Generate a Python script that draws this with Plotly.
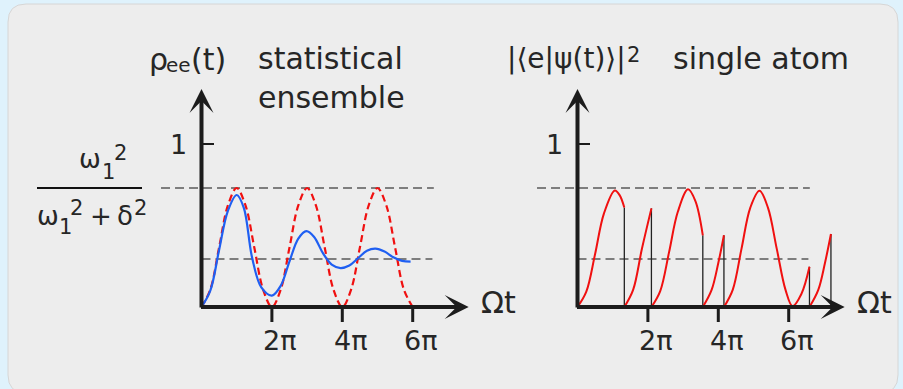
import plotly.graph_objects as go

W, H = 903, 389

# ---------------- data (x in units of pi, i.e. Omega*t / pi) ----------------
# statistical ensemble: undamped detuned Rabi oscillation (red dashed)
coherent_x = [0, 0.25, 0.5, 0.75, 1.0, 1.25, 1.5, 1.75, 2.0, 2.25, 2.5, 2.75, 3.0,
              3.25, 3.5, 3.75, 4.0, 4.25, 4.5, 4.75, 5.0, 5.25, 5.5, 5.75, 6.0]
coherent_y = [0, 0.107, 0.365, 0.623, 0.73, 0.623, 0.365, 0.107, 0.0, 0.107, 0.365, 0.623, 0.73,
              0.623, 0.365, 0.107, 0.0, 0.107, 0.365, 0.623, 0.73, 0.623, 0.365, 0.107, 0.0]
# damped ensemble average (blue)
ensemble_x = [0, 0.25, 0.5, 0.75, 1.0, 1.2, 1.44, 1.7, 2.0, 2.25, 2.5, 2.75, 2.98,
              3.2, 3.45, 3.7, 3.95, 4.2, 4.45, 4.7, 4.94, 5.2, 5.45, 5.7, 5.94]
ensemble_y = [0, 0.1, 0.35, 0.59, 0.687, 0.61, 0.30, 0.12, 0.07, 0.13, 0.28, 0.42, 0.466,
              0.43, 0.33, 0.26, 0.239, 0.255, 0.30, 0.345, 0.358, 0.34, 0.305, 0.283, 0.278]

upper_level = 0.73      # omega1^2 / (omega1^2 + delta^2)
lower_level = 0.294     # steady state
upper_level_span = [-1.15, 6.6]
lower_level_span = [0, 6.56]

# single atom trajectory (red), segments restart at 0 after each quantum jump
atom_x = [0, 0.25, 0.5, 0.75, 1.06, 1.2, 1.33, None,
          1.33, 1.58, 1.83, 2.10, None,
          2.10, 2.35, 2.6, 2.85, 3.14, 3.35, 3.56, None,
          3.56, 3.81, 4.0, 4.16, None,
          4.16, 4.41, 4.66, 4.91, 5.17, 5.41, 5.66, 5.91, 6.11, 6.36, 6.59, None,
          6.59, 6.84, 7.03, 7.2]
atom_y = [0, 0.094, 0.325, 0.573, 0.715, 0.685, 0.61, None,
          0, 0.105, 0.357, 0.605, None,
          0, 0.098, 0.335, 0.584, 0.722, 0.65, 0.44, None,
          0, 0.105, 0.27, 0.44, None,
          0, 0.105, 0.358, 0.61, 0.713, 0.61, 0.358, 0.105, 0.005, 0.08, 0.247, None,
          0, 0.105, 0.27, 0.448]
jump_x = [1.33, 2.10, 3.56, 4.16, 6.59, 7.2]
jump_top = [0.61, 0.605, 0.44, 0.44, 0.247, 0.448]

tick_vals = [2, 4, 6]
tick_text = ["2π", "4π", "6π"]
y_tick_vals = [1]
y_tick_text = ["1"]
x_axis_end = 7.59
y_axis_end = 1.337

# ---------------- layout geometry (pixels) ----------------
X0 = {"x": 201.5, "x2": 577.5}
SX = 35.2
Y0 = 307.0
SY = 163.0

FONT = "DejaVu Sans"
TXT = "#262626"
AX = "#1c1c1c"


def px(v):
    return v / W


def py(v):
    return 1 - v / H


def dx(xr, v):
    """data x -> paper fraction"""
    return px(X0[xr] + v * SX)


def dy(v):
    """data y -> paper fraction"""
    return py(Y0 - v * SY)


def piece(text, left, cy, size, anchor="left"):
    return dict(x=px(left), y=py(cy), xref="paper", yref="paper", text=text, showarrow=False,
                font=dict(family=FONT, size=size, color=TXT), xanchor=anchor, yanchor="middle")


fig = go.Figure()

annotations = []
for xr in ["x", "x2"]:
    # dashed reference levels
    fig.add_trace(go.Scatter(x=upper_level_span, y=[upper_level, upper_level], xaxis=xr, yaxis="y",
                             mode="lines", line=dict(color="#5a5a5a", width=1.5, dash="9px,5px"),
                             hoverinfo="skip", showlegend=False))
    fig.add_trace(go.Scatter(x=lower_level_span, y=[lower_level, lower_level], xaxis=xr, yaxis="y",
                             mode="lines", line=dict(color="#5a5a5a", width=1.5, dash="9px,5px"),
                             hoverinfo="skip", showlegend=False))
    # x ticks
    tx, ty = [], []
    for t in tick_vals:
        tx += [t, t, None]
        ty += [0, -15 / SY, None]
    fig.add_trace(go.Scatter(x=tx, y=ty, xaxis=xr, yaxis="y", mode="lines",
                             line=dict(color=AX, width=3), hoverinfo="skip", showlegend=False))
    # y ticks
    yx, yy = [], []
    for t in y_tick_vals:
        yx += [0, 12.5 / SX, None]
        yy += [t, t, None]
    fig.add_trace(go.Scatter(x=yx, y=yy, xaxis=xr, yaxis="y", mode="lines",
                             line=dict(color=AX, width=2), hoverinfo="skip", showlegend=False))
    for t, lab in zip(tick_vals, tick_text):
        annotations.append(dict(x=dx(xr, t) + px(8), y=dy(0) - 33 / H, xref="paper", yref="paper", text=lab,
                                showarrow=False, font=dict(family=FONT, size=27, color=TXT),
                                xanchor="center", yanchor="middle"))
    for t, lab in zip(y_tick_vals, y_tick_text):
        annotations.append(dict(x=dx(xr, 0) - px(23), y=dy(t), xref="paper", yref="paper", text=lab,
                                showarrow=False, font=dict(family=FONT, size=27, color=TXT),
                                xanchor="center", yanchor="middle"))
    # axes with arrow heads
    annotations.append(dict(x=0, y=y_axis_end, ax=0, ay=-2 / SY, xref=xr, yref="y", axref=xr, ayref="y",
                            text="", showarrow=True, arrowhead=3, arrowsize=1, arrowwidth=4,
                            arrowcolor=AX))
    annotations.append(dict(x=x_axis_end, y=0, ax=-2 / SX, ay=0, xref=xr, yref="y", axref=xr, ayref="y",
                            text="", showarrow=True, arrowhead=3, arrowsize=1, arrowwidth=4,
                            arrowcolor=AX))
    annotations.append(dict(x=dx(xr, x_axis_end) + px(10), y=dy(0) + 5 / H, xref="paper", yref="paper",
                            text="Ωt", showarrow=False,
                            font=dict(family=FONT, size=30, color=TXT), xanchor="left", yanchor="middle"))

# left panel curves
fig.add_trace(go.Scatter(x=coherent_x, y=coherent_y, xaxis="x", yaxis="y", mode="lines",
                         line=dict(color="#f01010", width=2.2, dash="7px,4px", shape="spline", smoothing=1.0),
                         hoverinfo="skip", showlegend=False))
fig.add_trace(go.Scatter(x=ensemble_x, y=ensemble_y, xaxis="x", yaxis="y", mode="lines",
                         line=dict(color="#1f5ff2", width=2.2, shape="spline", smoothing=1.0),
                         hoverinfo="skip", showlegend=False))

# right panel: jumps and trajectory
jx, jy = [], []
for xj, yj in zip(jump_x, jump_top):
    jx += [xj, xj, None]
    jy += [yj, 0, None]
fig.add_trace(go.Scatter(x=jx, y=jy, xaxis="x2", yaxis="y", mode="lines",
                         line=dict(color="#222222", width=1.3), hoverinfo="skip", showlegend=False))
fig.add_trace(go.Scatter(x=atom_x, y=atom_y, xaxis="x2", yaxis="y", mode="lines",
                         line=dict(color="#f01010", width=2, shape="spline", smoothing=1.0),
                         hoverinfo="skip", showlegend=False))

# titles and labels (sub/superscripts set as separate smaller pieces)
annotations += [
    piece("ρ", 147, 59, 30),
    piece("ee", 164, 65, 20),
    piece("(t)", 189, 59, 30),
    piece("statistical", 256, 58, 30),
    piece("ensemble", 256, 97, 30),
    piece("|⟨e|ψ(t)⟩|", 505, 58.5, 28),
    piece("2", 625, 55, 21),
    piece("single atom", 671, 58, 30),
    # fraction numerator
    piece("ω", 77, 159, 26),
    piece("1", 100, 172, 21),
    piece("2", 112, 152.5, 21),
    # fraction denominator
    piece("ω", 35, 216, 26),
    piece("1", 57, 227, 21),
    piece("2", 68, 207.5, 21),
    piece("+", 88, 216, 26),
    piece("δ", 115, 216, 26),
    piece("2", 132, 207.5, 21),
]

# rounded panel background
L, T, R, B, r = 8, 4, 898, 393, 18
path = (f"M {px(L+r)},{py(T)} L {px(R-r)},{py(T)} Q {px(R)},{py(T)} {px(R)},{py(T+r)} "
        f"L {px(R)},{py(B-r)} Q {px(R)},{py(B)} {px(R-r)},{py(B)} "
        f"L {px(L+r)},{py(B)} Q {px(L)},{py(B)} {px(L)},{py(B-r)} "
        f"L {px(L)},{py(T+r)} Q {px(L)},{py(T)} {px(L+r)},{py(T)} Z")
shapes = [
    dict(type="path", path=path, xref="paper", yref="paper", fillcolor="#ededed",
         line=dict(color="#d6d6d6", width=1), layer="below"),
    dict(type="line", x0=px(37), x1=px(142), y0=py(188), y1=py(188), xref="paper", yref="paper",
         line=dict(color="#111111", width=2)),
]

fig.update_layout(
    width=W, height=H,
    margin=dict(l=0, r=0, t=0, b=0),
    paper_bgcolor="#dff2fc",
    plot_bgcolor="rgba(0,0,0,0)",
    showlegend=False,
    xaxis=dict(domain=[0, 1], range=[(0 - X0["x"]) / SX, (W - X0["x"]) / SX], visible=False, fixedrange=True),
    xaxis2=dict(domain=[0, 1], range=[(0 - X0["x2"]) / SX, (W - X0["x2"]) / SX], visible=False,
                overlaying="x", fixedrange=True),
    yaxis=dict(domain=[0, 1], range=[(Y0 - H) / SY, Y0 / SY], visible=False, fixedrange=True),
    annotations=annotations,
    shapes=shapes,
)

fig.write_html(
    "out.html",
    config={"displayModeBar": False},
    post_script="document.body.style.margin='0';document.body.style.background='#dff2fc';",
)
